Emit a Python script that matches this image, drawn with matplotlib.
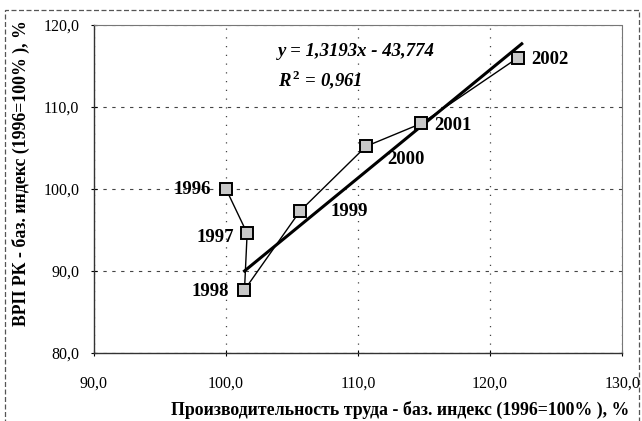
import numpy as np
import matplotlib
matplotlib.use('Agg')
import matplotlib.pyplot as plt
from matplotlib.ticker import FuncFormatter, MultipleLocator
from matplotlib.patches import Rectangle

# данные
years = ['1996', '1997', '1998', '1999', '2000', '2001', '2002']
labor = [100.0, 101.6, 101.4, 105.6, 110.6, 114.8, 122.1]   # производительность труда
grp = [100.0, 94.6, 87.7, 97.3, 105.2, 108.0, 116.0]       # ВРП РК
trend_k = 1.3193
trend_b = -43.774
trend_x = [101.4, 122.4]
eq_text = 'y = 1,3193x - 43,774'
r2_text = '$\\mathbfit{R}^{\\,\\mathbf{2}}$ = 0,961'

plt.rcParams['font.family'] = ['Liberation Serif', 'DejaVu Serif']
plt.rcParams['mathtext.fontset'] = 'custom'
plt.rcParams['mathtext.bfit'] = 'Liberation Serif:bold:italic'
plt.rcParams['mathtext.bf'] = 'Liberation Serif:bold'

fig = plt.figure(figsize=(6.42, 4.21), dpi=100)
ax = fig.add_axes([0.1464, 0.1615, 0.8226, 0.7791])

# линия тренда
tx = np.array(trend_x)
ax.plot(tx, trend_k * tx + trend_b, color='black', lw=2.2, zorder=3)

# ряд данных
ax.plot(labor, grp, color='black', lw=1.0, marker='s', markersize=8.5,
        markerfacecolor='#c8c8c8', markeredgecolor='black', markeredgewidth=1.4, zorder=4)

# подписи годов (смещение в пунктах)
offsets = {
    '1996': (-11, 0, 'right'),
    '1997': (-9.5, -3, 'right'),
    '1998': (-11, -1.5, 'right'),
    '1999': (22, 0, 'left'),
    '2000': (15, -9.5, 'left'),
    '2001': (9.5, -1.5, 'left'),
    '2002': (10, -1, 'left'),
}
for yr, xv, yv in zip(years, labor, grp):
    dx, dy, ha = offsets[yr]
    ax.annotate(yr, (xv, yv), xytext=(dx, dy), textcoords='offset points',
                ha=ha, va='center', fontsize=13.5, fontweight='bold', zorder=5)

ax.text(0.348, 0.918, eq_text, transform=ax.transAxes, fontsize=13.5,
        fontweight='bold', fontstyle='italic', va='center')
ax.text(0.348, 0.832, r2_text, transform=ax.transAxes, fontsize=13.5,
        fontweight='bold', fontstyle='italic', va='center')

ax.set_xlim(90, 130)
ax.set_ylim(80, 120)
ax.xaxis.set_major_locator(MultipleLocator(10))
ax.yaxis.set_major_locator(MultipleLocator(10))
fmt = FuncFormatter(lambda v, p: ('%.1f' % v).replace('.', ','))
ax.xaxis.set_major_formatter(fmt)
ax.yaxis.set_major_formatter(fmt)
ax.tick_params(labelsize=11.5, direction='inout', length=5, width=0.8)
ax.tick_params(axis='x', pad=14)
ax.tick_params(axis='y', pad=8)

ax.grid(axis='y', color='#444444', linestyle=(0, (3, 5)), lw=0.8)
ax.grid(axis='x', color='#444444', linestyle=(0, (1, 6)), lw=0.9)
for s in ['top', 'right']:
    ax.spines[s].set_linestyle((0, (1, 1)))
    ax.spines[s].set_color('#777777')
for s in ['left', 'bottom']:
    ax.spines[s].set_color('#333333')
    ax.spines[s].set_linewidth(1.0)

fig.text(0.033, 0.953, 'ВРП РК - баз. индекс (1996=100% ), %', rotation=90,
         ha='center', va='top', fontsize=12.8, fontweight='bold')
fig.text(0.623, 0.026, 'Производительность труда - баз. индекс (1996=100% ), %',
         ha='center', va='center', fontsize=12.8, fontweight='bold')

# рамка области диаграммы
fig.patches.append(Rectangle((0.008, -0.01), 0.987, 0.986, transform=fig.transFigure,
                             fill=False, edgecolor='#555555', lw=0.9, linestyle=(0, (4, 2))))

fig.savefig('out.png', dpi=100)
